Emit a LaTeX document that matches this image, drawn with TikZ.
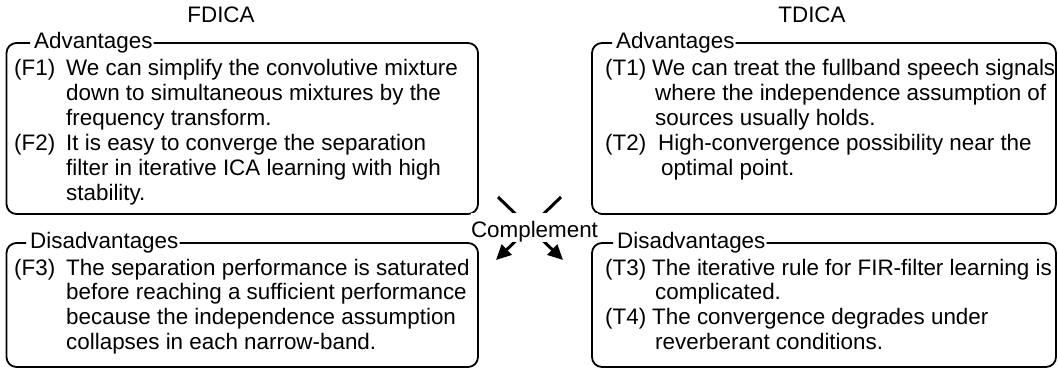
\documentclass[tikz,border=0pt]{standalone}
\usepackage{fontspec}
\setmainfont{Liberation Sans}
\usetikzlibrary{arrows.meta,calc}
\newcommand\mainsz{\fontsize{22.4}{24.8}\selectfont}
\tikzset{
  boxline/.style={line width=1.8pt, rounded corners=10pt},
  lbl/.style={anchor=base west, inner sep=0pt, font=\mainsz},
  title/.style={anchor=base, inner sep=0pt, font=\mainsz},
  item/.style={anchor=base west, inner sep=0pt, font=\mainsz},
  cmp/.style={line width=3pt, -{Triangle[length=15pt,width=14pt]}},
}
\newcommand\itm[4]{\parbox[t]{520pt}{\raggedright\makebox[#1][l]{#2}#3\\#4}}
\begin{document}
\begin{tikzpicture}[x=1pt,y=-1pt]
\useasboundingbox (0,0) rectangle (1058,369);

% titles
\node[title] (fd) at (221,23) {FDICA};
\node[title] (td) at (812,23) {TDICA};

% labels
\node[lbl] (advL) at (34,48.5) {Advantages};
\node[lbl] (advR) at (616,48.5) {Advantages};
\node[lbl] (disL) at (30,248.5) {Disadvantages};
\node[lbl] (disR) at (617,248.5) {Disadvantages};

% boxes
\draw[boxline] ($(advL.base west)+(-4,-5.5)$) -- (6.5,43) -- (6.5,214) -- (478,214) -- (478,43) -- ($(advL.base east)+(1,-5.5)$);
\draw[boxline] ($(advR.base west)+(-4,-5.5)$) -- (592,43) -- (592,214) -- (1056,214) -- (1056,43) -- ($(advR.base east)+(1,-5.5)$);
\draw[boxline] ($(disL.base west)+(-4,-5.5)$) -- (6.5,243) -- (6.5,367) -- (478,367) -- (478,243) -- ($(disL.base east)+(1,-5.5)$);
\draw[boxline] ($(disR.base west)+(-4,-5.5)$) -- (592,243) -- (592,367) -- (1056,367) -- (1056,243) -- ($(disR.base east)+(1,-5.5)$);

% items
\node[item] (f1) at (14,76) {\itm{52pt}{(F1)}{We can simplify the convolutive mixture}{\hspace*{52pt}down to simultaneous mixtures by the\\\hspace*{52pt}frequency transform.}};
\node[item] (f2) at (14,150.4) {\itm{52pt}{(F2)}{It is easy to converge the separation}{\hspace*{52pt}filter in iterative ICA learning with high\\\hspace*{52pt}stability.}};
\node[item] (f3) at (14,275) {\itm{52pt}{(F3)}{The separation performance is saturated}{\hspace*{52pt}before reaching a sufficient performance\\\hspace*{52pt}because the independence assumption\\\hspace*{52pt}collapses in each narrow-band.}};

\node[item] (t1) at (605,76) {\itm{47pt}{(T1)}{We can treat the fullband speech signals}{\hspace*{50pt}where the independence assumption of\\\hspace*{50pt}sources usually holds.}};
\node[item] (t2) at (605,150.4) {\itm{53pt}{(T2)}{High-convergence possibility near the}{\hspace*{56pt}optimal point.}};
\node[item] (t3) at (605,275) {\itm{47pt}{(T3)}{The iterative rule for FIR-filter learning is}{\hspace*{50pt}complicated.}};
\node[item] (t4) at (605,324.6) {\itm{47pt}{(T4)}{The convergence degrades under}{\hspace*{50pt}reverberant conditions.}};

% complement arrows
\coordinate (ul) at (498,197);
\coordinate (ur) at (561,197);
\coordinate (ll) at (496,260);
\coordinate (lr) at (563,260);
\draw[cmp] (ul) -- (lr);
\draw[cmp] (ur) -- (ll);
\node[fill=white, inner sep=0pt, text height=24pt, text depth=5pt, anchor=base, font=\mainsz] (comp) at (534.5,237) {Complement};
\end{tikzpicture}
\end{document}
